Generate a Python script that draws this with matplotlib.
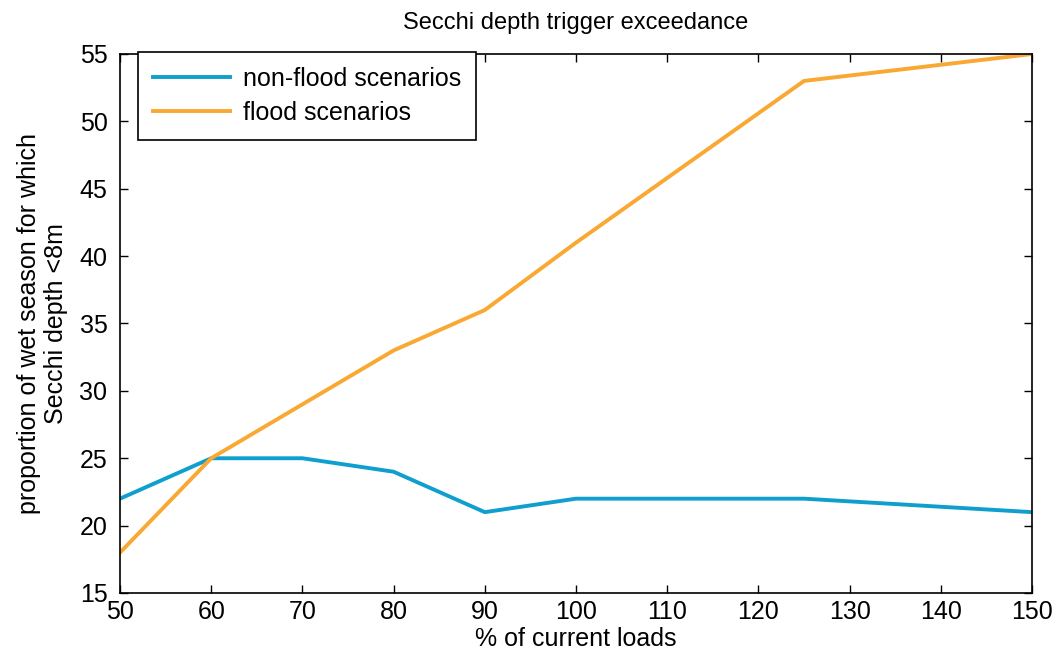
import matplotlib
matplotlib.use("Agg")
import matplotlib.pyplot as plt

plt.rcParams['font.family'] = ['Liberation Sans', 'DejaVu Sans']

# data
loads = [50, 60, 70, 80, 90, 100, 125, 150]
non_flood = [22, 25, 25, 24, 21, 22, 22, 21]
flood = [18, 25, 29, 33, 36, 41, 53, 55]

fig = plt.figure(figsize=(10.58, 6.62), dpi=100)
ax = fig.add_axes([120 / 1058, 1 - 593 / 662, (1032 - 120) / 1058, (593 - 54) / 662])

ax.plot(loads, non_flood, color='#0f9fcf', lw=2.8, label='non-flood scenarios')
ax.plot(loads, flood, color='#f9a832', lw=2.8, label='flood scenarios')

ax.set_xlim(50, 150)
ax.set_ylim(15, 55)
ax.set_xticks(range(50, 151, 10))
ax.set_yticks(range(15, 56, 5))
ax.tick_params(direction='in', top=True, right=True, labelsize=18, length=6, width=1)
ax.tick_params(axis='x', pad=5)
ax.tick_params(axis='y', pad=9)
for s in ax.spines.values():
    s.set_linewidth(1.2)

ax.set_title("Secchi depth trigger exceedance", fontsize=17, pad=18)
ax.set_xlabel("% of current loads", fontsize=18, labelpad=2)
ax.set_ylabel("proportion of wet season for which\nSecchi depth <8m", fontsize=18, labelpad=8)

leg = ax.legend(loc='upper left', bbox_to_anchor=(0.0197, 1.004), borderaxespad=0,
                fontsize=18, fancybox=False, framealpha=1, edgecolor='black',
                handlelength=3.1, handletextpad=0.5, borderpad=0.6, labelspacing=0.4)
leg.get_frame().set_linewidth(1.2)

fig.savefig("out.png", dpi=100)
